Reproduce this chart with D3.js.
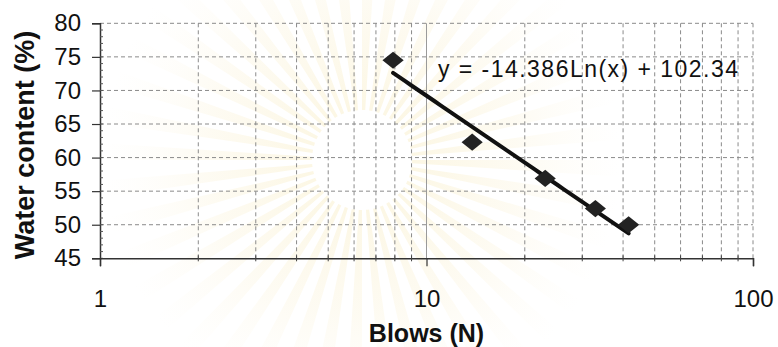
<!DOCTYPE html>
<html>
<head>
<meta charset="utf-8">
<script src="https://cdn.jsdelivr.net/npm/d3@7"></script>
<style>
  html, body { margin: 0; padding: 0; background: #fff; }
  svg { display: block; }
  text { font-family: "Liberation Sans", Arial, sans-serif; fill: #111; }
</style>
</head>
<body>
<svg id="chart" width="778" height="347"></svg>
<script>
// Liquid limit test: number of blows vs water content
const blows = [7.9, 13.8, 23.1, 32.9, 41.6];
const waterContent = [74.5, 62.3, 56.9, 52.4, 50.0];
const yTicks = [45, 50, 55, 60, 65, 70, 75, 80];
const xTicks = [1, 10, 100];
// Logarithmic fit  y = a·ln(x) + b
const fitA = -14.386;
const fitB = 102.34;
const fitLabel = "y = -14.386Ln(x) + 102.34";
const xTitle = "Blows (N)";
const yTitle = "Water content (%)";

const svg = d3.select("#chart");
const plotL = 100, plotR = 753, plotT = 23.3, plotB = 258.3;

const x = d3.scaleLog().domain([1, 100]).range([plotL, plotR]);
const y = d3.scaleLinear().domain([45, 80]).range([plotB, plotT]);

// faint emblem-like sunburst in the background
const bg = svg.append("g");
const defs = svg.append("defs");
const grad = defs.append("radialGradient").attr("id", "rayfade")
  .attr("gradientUnits", "userSpaceOnUse")
  .attr("cx", 0).attr("cy", 0).attr("r", 260);
grad.append("stop").attr("offset", "0.15").attr("stop-color", "#f6e7b0").attr("stop-opacity", 0.8);
grad.append("stop").attr("offset", "0.6").attr("stop-color", "#f8ebc0").attr("stop-opacity", 0.45);
grad.append("stop").attr("offset", "1").attr("stop-color", "#fbf3dc").attr("stop-opacity", 0);
const nRays = 44;
const rayArc = d3.arc().innerRadius(50).outerRadius(260);
const rays = d3.range(nRays).map(i => ({
  startAngle: (i / nRays) * 2 * Math.PI,
  endAngle: ((i + 0.45) / nRays) * 2 * Math.PI
}));
bg.append("g").attr("transform", "translate(362,160)")
  .selectAll("path").data(rays).join("path")
  .attr("d", rayArc)
  .attr("fill", "url(#rayfade)")
  .attr("opacity", 0.45);
bg.append("circle").attr("cx", 362).attr("cy", 160).attr("r", 48)
  .attr("fill", "#fff").attr("opacity", 0.8);

// grid
const grid = svg.append("g");
const yGrid = yTicks.filter(v => v > 45);
grid.selectAll("line.hg").data(yGrid).join("line")
  .attr("x1", plotL).attr("x2", plotR)
  .attr("y1", d => y(d)).attr("y2", d => y(d))
  .attr("stroke", "#8a8a8a").attr("stroke-width", 1)
  .attr("stroke-dasharray", "4,3");
const minorX = [2,3,4,5,6,7,8,9,20,30,40,50,60,70,80,90,100];
grid.selectAll("line.vg").data(minorX).join("line")
  .attr("x1", d => x(d)).attr("x2", d => x(d))
  .attr("y1", plotT).attr("y2", plotB)
  .attr("stroke", "#8a8a8a").attr("stroke-width", 1)
  .attr("stroke-dasharray", "4,3");
grid.append("line")
  .attr("x1", x(10)).attr("x2", x(10))
  .attr("y1", plotT).attr("y2", plotB)
  .attr("stroke", "#9a9a9a").attr("stroke-width", 1);

// axes
const yAxis = d3.axisLeft(y).tickValues(yTicks).tickSize(8).tickPadding(11);
const gy = svg.append("g").attr("transform", `translate(${plotL},0)`).call(yAxis);
gy.select(".domain").attr("stroke", "#333").attr("stroke-width", 1.5);
gy.selectAll(".tick line").attr("stroke", "#333").attr("stroke-width", 1.2);
gy.selectAll(".tick text").attr("font-size", 24).attr("fill", "#111")
  .attr("font-family", "Liberation Sans, Arial, sans-serif");
// minor inner ticks on y axis
svg.append("g").selectAll("line").data(d3.range(45, 80, 1)).join("line")
  .attr("x1", plotL).attr("x2", plotL + 3)
  .attr("y1", d => y(d)).attr("y2", d => y(d))
  .attr("stroke", "#555").attr("stroke-width", 1);

const xAxis = d3.axisBottom(x).tickValues(xTicks).tickFormat(d3.format("d"))
  .tickSize(8).tickPadding(24);
const gx = svg.append("g").attr("transform", `translate(0,${plotB})`).call(xAxis);
gx.select(".domain").attr("stroke", "#333").attr("stroke-width", 1.5);
gx.selectAll(".tick line").attr("stroke", "#333").attr("stroke-width", 1.2);
gx.selectAll(".tick text").attr("font-size", 24).attr("fill", "#111")
  .attr("font-family", "Liberation Sans, Arial, sans-serif");
// minor ticks on x axis
svg.append("g").selectAll("line").data(minorX.filter(d => d < 100)).join("line")
  .attr("x1", d => x(d)).attr("x2", d => x(d))
  .attr("y1", plotB - 3).attr("y2", plotB + 3)
  .attr("stroke", "#444").attr("stroke-width", 1);

// trendline
const xMin = d3.min(blows), xMax = d3.max(blows);
const fitPts = d3.range(0, 41).map(i => {
  const xv = Math.exp(Math.log(xMin) + (Math.log(xMax) - Math.log(xMin)) * i / 40);
  return [xv, fitA * Math.log(xv) + fitB];
});
svg.append("path")
  .datum(fitPts)
  .attr("d", d3.line().x(d => x(d[0])).y(d => y(d[1])))
  .attr("fill", "none").attr("stroke", "#111").attr("stroke-width", 4)
  .attr("stroke-linecap", "round");

// data points (diamonds)
const diamond = d3.symbol().type(d3.symbolDiamond2).size(260);
svg.append("g").selectAll("path").data(blows.map((b, i) => [b, waterContent[i]])).join("path")
  .attr("transform", d => `translate(${x(d[0])},${y(d[1])}) scale(1.05,0.85)`)
  .attr("d", diamond)
  .attr("fill", "#222");

// equation
svg.append("text")
  .attr("x", 438).attr("y", 77)
  .attr("font-size", 23)
  .attr("textLength", 300).attr("lengthAdjust", "spacing")
  .text(fitLabel);

// axis titles
svg.append("text")
  .attr("x", x(10)).attr("y", 342)
  .attr("text-anchor", "middle")
  .attr("font-size", 25).attr("font-weight", "bold")
  .text(xTitle);
svg.append("text")
  .attr("transform", "translate(34,145) rotate(-90)")
  .attr("text-anchor", "middle")
  .attr("font-size", 27).attr("font-weight", "bold")
  .text(yTitle);
</script>
</body>
</html>
